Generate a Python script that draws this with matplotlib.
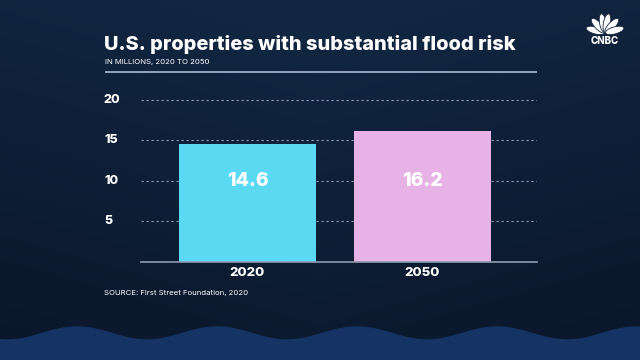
import numpy as np
import matplotlib.pyplot as plt
from matplotlib.patches import Ellipse

# data
years = ['2020', '2050']
properties = [14.6, 16.2]
bar_colors = ['#5cd9f2', '#e7b2e6']
y_ticks = [5, 10, 15, 20]

title = 'U.S. properties with substantial flood risk'
subtitle = 'IN MILLIONS, 2020 TO 2050'
source = 'SOURCE: First Street Foundation, 2020'

W, H = 640, 360
fig = plt.figure(figsize=(W / 100, H / 100), dpi=100)
font = 'Inter'

# background in pixel coords
bg = fig.add_axes([0, 0, 1, 1])
bg.set_xlim(0, W)
bg.set_ylim(H, 0)
bg.axis('off')
grad = np.linspace(0, 1, 256).reshape(-1, 1)
xg = np.linspace(0, 1, 256).reshape(1, -1)
img = np.zeros((256, 256, 3))
top_col = np.array([18, 40, 68]) / 255
bot_col = np.array([10, 22, 42]) / 255
mix = np.clip(grad * 0.8 + np.abs(xg - 0.5) * 0.4, 0, 1)
img[:] = top_col * (1 - mix[..., None]) + bot_col * mix[..., None]
bg.imshow(img, extent=[0, W, H, 0], aspect='auto', zorder=0)

# wave at the bottom
xw = np.linspace(0, W, 400)
yw = 333.5 - 6.5 * np.cos(2 * np.pi * (xw - 217) / 140)
bg.fill_between(xw, yw + 4, H, color='#0a1830', alpha=0.6, zorder=1)
bg.fill_between(xw, yw, H, color='#163463', zorder=2)

# title block
bg.text(104, 44, title, color='white', fontsize=14.4, fontweight='heavy',
        family=font, va='center', ha='left')
bg.text(105, 62, subtitle, color='white', fontsize=5.6, family=font,
        va='center', ha='left')
bg.plot([105, 537], [71.7, 71.7], color='#a9bad3', lw=1.2, solid_capstyle='butt')
bg.text(104, 293, source, color='white', fontsize=5.6, family=font,
        va='center', ha='left')

# CNBC logo (simplified peacock)
cx, cy = 605, 33
for ang in [165, 133, 101, 79, 47, 15]:
    r = np.deg2rad(ang)
    ex = cx + 10 * np.cos(r)
    ey = cy - 10 * np.sin(r)
    bg.add_patch(Ellipse((ex, ey), 19, 7, angle=-ang, facecolor='white',
                         edgecolor='#13253f', lw=0.6, zorder=5))
bg.text(cx, 41, 'CNBC', color='white', fontsize=7, fontweight='heavy',
        family=font, ha='center', va='center', zorder=6)

# chart axes
left, right = 140.7, 536.7
base, top20 = 261.7, 100.0
ymax = 21.0
ax_top = base - (base - top20) * ymax / 20
ax = fig.add_axes([left / W, (H - base) / H, (right - left) / W, (base - ax_top) / H])
ax.patch.set_alpha(0)
x = np.arange(len(years))
ax.bar(x, properties, width=0.78, color=bar_colors, zorder=3)
ax.set_xlim(-0.61, 1.653)
ax.set_ylim(0, ymax)
for v in y_ticks:
    ax.axhline(v, color='#8d9bb0', lw=0.8, ls=(0, (2, 2.5)), zorder=1)
for xi, v in zip(x, properties):
    ax.text(xi, 10, f'{v}', color='white', fontsize=14, fontweight='heavy',
            family=font, ha='center', va='center', zorder=4)
for s in ['top', 'right', 'left']:
    ax.spines[s].set_visible(False)
ax.spines['bottom'].set_color('#8d9bb0')
ax.spines['bottom'].set_linewidth(1.2)
ax.spines['bottom'].set_zorder(5)
ax.set_xticks(x)
ax.set_xticklabels(years, color='white', fontsize=9.5, fontweight='heavy', family=font)
ax.tick_params(axis='x', length=0, pad=4)
ax.set_yticks([])
for v in y_ticks:
    bg.text(104, base - (base - top20) * v / 20, str(v), color='white',
            fontsize=9, fontweight='heavy', family=font, ha='left', va='center')

fig.savefig('out.png', dpi=100)
